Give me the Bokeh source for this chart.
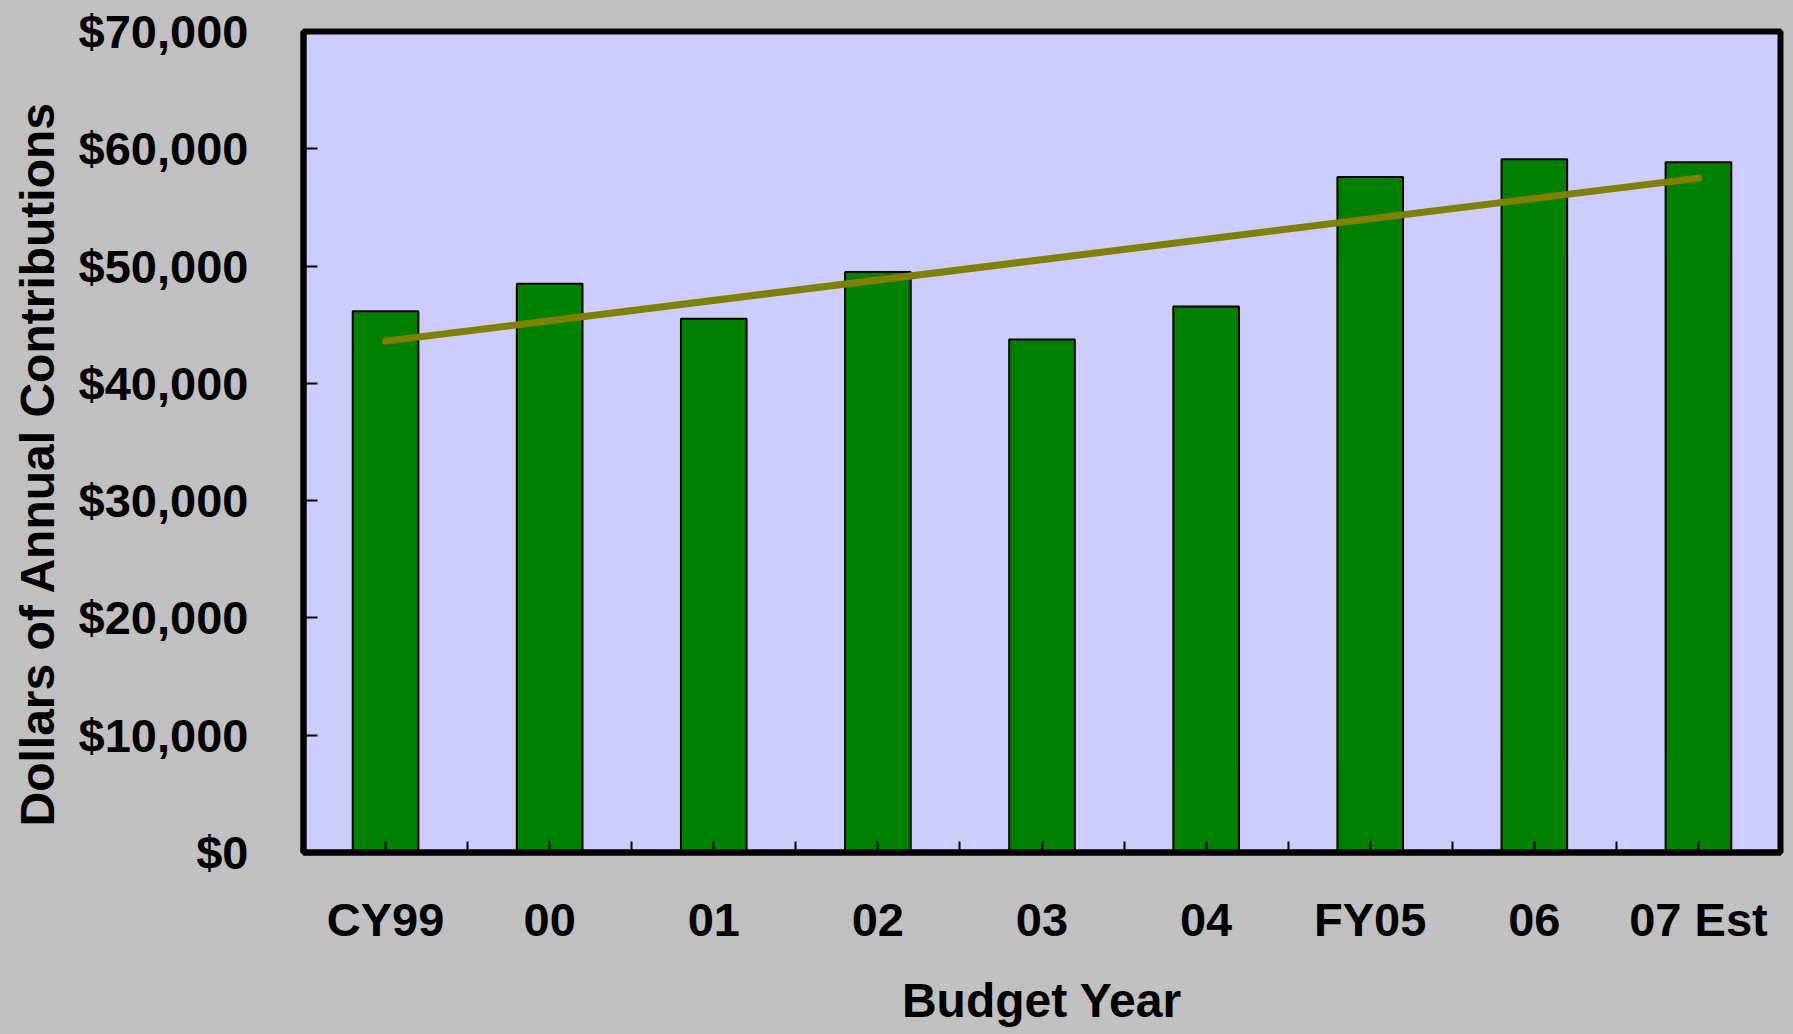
from bokeh.plotting import figure
from bokeh.models import Range1d, FixedTicker, NumeralTickFormatter, Title
from bokeh.embed import file_html
from bokeh.resources import INLINE

# ---- data ----
categories = ["CY99", "00", "01", "02", "03", "04", "FY05", "06", "07 Est"]
contributions = [46150, 48500, 45500, 49500, 43750, 46550, 57600, 59100, 58850]
trend_ends = [43600, 57500]          # linear trend line, first and last category
y_ticks = [0, 10000, 20000, 30000, 40000, 50000, 60000, 70000]

FONT = "Liberation Sans"
BG = "#C0C0C0"
PLOT_BG = "#CCCCFF"
BAR = "#008000"
TREND = "#808000"

xs = list(range(1, len(categories) + 1))
bounds = [i + 0.5 for i in xs[:-1]]

p = figure(width=1793, height=1034,
           x_range=Range1d(0.5, len(categories) + 0.5),
           y_range=Range1d(y_ticks[0], y_ticks[-1]),
           output_backend="svg", toolbar_location=None,
           min_border_left=303, min_border_right=13,
           min_border_top=31, min_border_bottom=182,
           background_fill_color=PLOT_BG, border_fill_color=BG)

p.vbar(x=xs, top=contributions, width=0.4, bottom=0,
       fill_color=BAR, line_color="black", line_width=2)
p.line(x=[xs[0], xs[-1]], y=trend_ends, line_color=TREND, line_width=7,
       line_cap="round")

p.xgrid.visible = False
p.ygrid.visible = False
p.outline_line_color = "black"
p.outline_line_width = 6

# x axis
xa = p.xaxis[0]
xa.ticker = FixedTicker(ticks=xs, minor_ticks=bounds)
xa.major_label_overrides = {x: c for x, c in zip(xs, categories)}
xa.axis_label = "Budget Year"
xa.major_tick_in = 11
xa.major_tick_out = 0
xa.minor_tick_in = 11
xa.minor_tick_out = 0
xa.major_tick_line_width = 2
xa.minor_tick_line_width = 2
xa.minor_tick_line_color = "black"
xa.major_label_standoff = 40
xa.axis_label_standoff = 25

# y axis
ya = p.yaxis[0]
ya.ticker = FixedTicker(ticks=y_ticks)
ya.formatter = NumeralTickFormatter(format="$0,0")
ya.major_tick_in = 14
ya.major_tick_out = 0
ya.minor_tick_line_color = None
ya.major_tick_line_width = 2
ya.major_label_standoff = 55

for ax in (xa, ya):
    ax.axis_line_width = 6
    ax.axis_line_color = "black"
    ax.major_tick_line_color = "black"
    ax.major_label_text_font = FONT
    ax.major_label_text_font_style = "bold"
    ax.major_label_text_font_size = "47px"
    ax.major_label_text_color = "black"
    ax.axis_label_text_font = FONT
    ax.axis_label_text_font_style = "bold"
    ax.axis_label_text_font_size = "48px"
    ax.axis_label_text_color = "black"

# y-axis title (side title, starting a little above the bottom of the frame)
ytitle = Title(text="Dollars of Annual Contributions", align="left",
               vertical_align="top", offset=26, standoff=19,
               text_font=FONT, text_font_style="bold",
               text_font_size="48px", text_color="black")
p.add_layout(ytitle, "left")

html = None
try:
    from jinja2 import Template
    tmpl = Template("{% extends base %}{% block preamble %}"
                    "<style>body{background:#C0C0C0;}</style>{% endblock %}")
    html = file_html(p, INLINE, template=tmpl)
except Exception:
    html = file_html(p, INLINE)

open("out.html", "w").write(html)
